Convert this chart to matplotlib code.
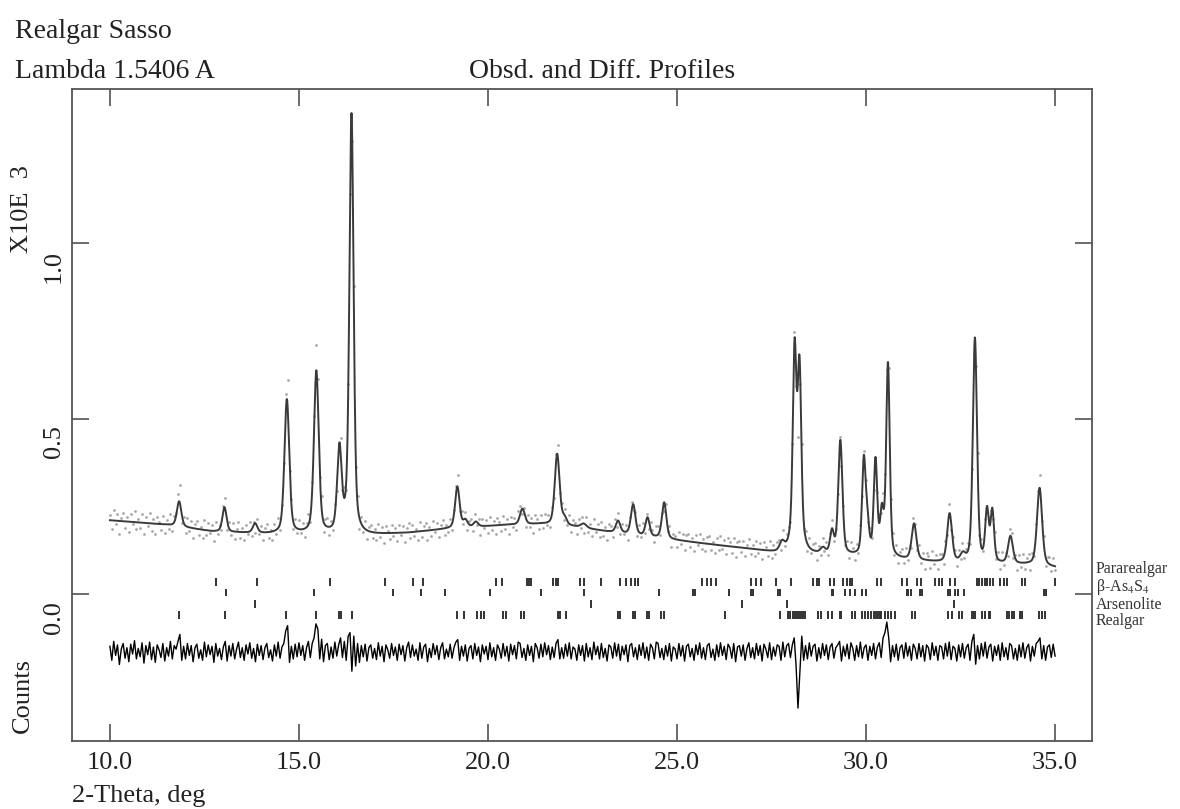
import numpy as np
import matplotlib.pyplot as plt
import matplotlib.transforms as mtransforms

plt.rcParams['font.family'] = ['Liberation Serif', 'DejaVu Serif']
plt.rcParams['mathtext.fontset'] = 'stix'

# peaks: 2-theta (deg), height above background (x10^3 counts), fwhm (deg)
peak_pos = [11.83, 13.03, 13.84, 14.68, 15.46, 16.07, 16.33, 16.39,
            19.19, 19.40, 19.68, 20.91, 21.83, 22.02, 22.53,
            23.44, 23.84, 24.22, 24.66, 27.78,
            28.11, 28.17, 28.24, 28.86, 29.10, 29.32,
            29.94, 30.03, 30.25, 30.42, 30.58, 31.27,
            32.21, 32.56, 32.88, 33.20, 33.34, 33.82, 34.59]
peak_height = [0.072, 0.070, 0.027, 0.382, 0.462, 0.235, 0.03, 1.17,
               0.118, 0.02, 0.014, 0.045, 0.203, 0.02, 0.012,
               0.034, 0.086, 0.053, 0.103, 0.025,
               0.51, 0.08, 0.46, 0.015, 0.063, 0.325,
               0.26, 0.09, 0.27, 0.12, 0.55, 0.103,
               0.138, 0.02, 0.64, 0.145, 0.145, 0.078, 0.222]
peak_fwhm = [0.14, 0.13, 0.14, 0.15, 0.15, 0.14, 0.30, 0.13,
             0.14, 0.14, 0.14, 0.15, 0.15, 0.14, 0.18,
             0.14, 0.14, 0.13, 0.14, 0.15,
             0.11, 0.30, 0.11, 0.15, 0.12, 0.13,
             0.11, 0.12, 0.11, 0.11, 0.11, 0.15,
             0.15, 0.15, 0.13, 0.11, 0.11, 0.15, 0.16]

# background knots
bg_theta = [10.0, 11.5, 12.7, 14.2, 15.7, 16.8, 17.9, 18.9, 20.4, 21.4, 22.3,
            23.2, 24.9, 25.9, 27.0, 27.6, 28.6, 29.7, 31.0, 32.0, 34.3, 35.0]
bg_counts = [0.210, 0.197, 0.178, 0.171, 0.170, 0.167, 0.174, 0.185, 0.196, 0.199, 0.191,
             0.177, 0.154, 0.141, 0.127, 0.117, 0.112, 0.107, 0.097, 0.089, 0.083, 0.075]

# obs - calc, counts, every 0.05 deg from 10.0
step = 0.05
resid_counts = [
    16, -24, 30, -10, 20, -36, 8, 24, -18, 12, -28, 22, -6, 32, -20, 10, -14, 26, -32, 18,
    -8, 28, -22, 14, -30, 20, 6, -16, 24, -26, 12, -12, 30, -20, 18, 8, 30, 50, -24, 16,
    -20, 24, -10, 18, -28, 12, 22, -18, 6, -24, 28, -14, 20, -8, 16, -30, 24, -12, 10, -22,
    14, 30, -26, 18, -12, 24, -20, 8, 28, -16, 12, -24, 20, -6, 26, -18, 10, -28, 22, -10,
    18, -22, 12, 24, -16, 6, -26, 20, -12, 28, -18, 14, 24, 60, 75, -30, 16, -20, 22, -14,
    26, -10, 18, -24, 12, 30, -16, 24, 40, 80, 65, -20, 36, -28, 18, 24, -22, 14, -18, 28,
    -12, 20, 40, -16, 30, -24, 44, 55, -55, 45, -40, 24, -30, 18, -14, 22, -26, 12, 20, -18,
    10, -22, 26, -12, 16, -28, 20, 6, -18, 24, -10, 14, -24, 22, -8, 18, -26, 12, 28, -16,
    20, -12, 8, -24, 26, -18, 14, 22, -28, 10, -16, 24, -8, 18, -22, 12, 26, -20, 8, -14,
    22, -18, 12, 28, 35, -24, 16, -12, 20, -26, 10, 18, -20, 24, -10, 14, -28, 20, -6, 16,
    -22, 26, -14, 12, -24, 20, 8, -18, 24, -12, 16, -26, 22, -8, 18, -20, 28, 24, -16, 10,
    -24, 20, -10, 16, -28, 24, 12, -18, 22, -14, 26, -8, 18, -22, 14, -16, 24, 35, -20, 12,
    -18, 22, -12, 26, -20, 14, 8, -24, 20, -10, 18, -26, 24, -14, 12, -22, 28, -8, 16, -20,
    24, -16, 10, -26, 20, 14, -18, 26, -12, 22, -24, 16, -8, 20, -28, 18, 24, -14, 12, -22,
    20, -10, 26, -18, 14, -24, 22, 12, -20, 28, 24, -16, 10, -22, 18, -12, 24, -26, 14, 8,
    -20, 24, -12, 18, -26, 16, 22, -14, 10, -24, 20, -8, 26, -18, 12, -22, 18, 24, -16, 8,
    -24, 20, -14, 26, -10, 16, -22, 22, 12, -18, 24, -28, 14, 18, -12, 20, -24, 10, 26, -16,
    12, -20, 24, -10, 18, -26, 22, 8, -16, 26, -22, 14, -12, 20, 16, -24, 28, -14, 18, 24,
    -16, 20, 40, -40, -160, -60, 45, -24, 18, -20, 26, -12, 16, 22, -26, 12, -18, 24, -10, 20,
    -22, 14, 24, -18, 12, 20, 30, -26, 16, -12, 22, -20, 26, 10, -24, 18, -14, 28, -18, 12,
    20, -24, 16, -10, 24, -20, 14, 26, -16, 40, 55, 85, 40, -28, 18, -14, 22, -24, 12, 20,
    -18, 26, -12, 16, -24, 22, 10, -20, 24, -14, 18, -26, 20, 12, -22, 26, -10, 16, -24, 18,
    14, -20, 24, -12, 28, -22, 16, 10, -26, 20, -14, 24, -18, 12, 22, -24, 30, 50, -35, 18,
    -20, 24, -12, 28, -18, 14, 22, -26, 16, -10, 20, -24, 26, -14, 12, -22, 24, 18, -20, 10,
    -24, 20, -14, 26, -18, 12, 22, -26, 16, -12, 24, 30, 40, -20, 18, -24, 14, 20, -16, 22,
    -12]
diff_offset = -0.165

# reflection markers per phase
phase_names = ['Pararealgar', r'β-As$_4$S$_4$', 'Arsenolite', 'Realgar']
pararealgar = [12.80, 13.89, 15.82, 17.27, 18.02, 18.28, 20.21, 20.38, 21.03, 21.09, 21.15,
               21.73, 21.80, 21.86, 22.44, 22.55, 22.99, 23.50, 23.65, 23.79, 23.89, 23.96,
               25.67, 25.79, 25.91, 26.04, 26.97, 27.08, 27.21, 27.63, 28.01, 28.60, 28.69,
               28.76, 29.04, 29.15, 29.40, 29.49, 29.57, 29.62, 30.28, 30.39, 30.96, 31.08,
               31.34, 31.46, 31.83, 31.92, 32.00, 32.22, 32.36, 32.93, 32.99, 33.06, 33.14,
               33.20, 33.29, 33.37, 33.55, 33.64, 33.73, 34.12, 34.20, 34.99]
beta_as4s4 = [13.08, 15.41, 17.49, 18.22, 18.87, 20.05, 21.40, 22.55, 24.52, 25.42, 25.47,
              26.37, 26.97, 27.02, 27.67, 27.73, 29.09, 29.13, 29.44, 29.57, 29.71, 29.88,
              29.99, 31.08, 31.12, 31.19, 31.43, 31.47, 32.18, 32.22, 32.36, 32.42, 32.58,
              34.70, 34.76]
arsenolite = [13.84, 22.73, 26.72, 27.92, 32.33]
realgar = [11.84, 13.05, 14.67, 15.45, 16.05, 16.12, 16.39, 19.17, 19.37, 19.70, 19.81,
           19.90, 20.41, 20.47, 20.87, 20.94, 21.84, 21.91, 22.06, 23.43, 23.50, 23.83,
           23.90, 24.21, 24.27, 24.58, 24.65, 26.26, 27.72, 27.94, 28.00, 28.08, 28.12,
           28.18, 28.24, 28.29, 28.34, 28.38, 28.73, 28.82, 29.00, 29.09, 29.31, 29.35,
           29.62, 29.71, 29.88, 29.97, 30.05, 30.14, 30.22, 30.27, 30.31, 30.36, 30.40,
           30.49, 30.58, 30.67, 30.76, 31.21, 31.30, 32.18, 32.27, 32.45, 32.53, 32.80,
           32.85, 32.89, 33.06, 33.15, 33.24, 33.28, 33.73, 33.78, 33.86, 33.91, 34.08,
           34.12, 34.57, 34.66, 34.74]
phase_rows = [0.035, 0.004, -0.028, -0.059]
label_rows = [0.070, 0.019, -0.030, -0.076]

xticks = [10, 15, 20, 25, 30, 35]
xtick_labels = ['10.0', '15.0', '20.0', '25.0', '30.0', '35.0']
yticks = [0.0, 0.5, 1.0]
ytick_labels = ['0.0', '0.5', '1.0']


def profile(tt):
    # pseudo-Voigt peaks on the background
    y = np.interp(tt, bg_theta, bg_counts)
    for p, h, w in zip(peak_pos, peak_height, peak_fwhm):
        d = (tt - p) / w
        y = y + h * (0.6 * np.exp(-4 * np.log(2) * d ** 2) + 0.4 / (1 + 4 * d ** 2))
    return y


tt_fine = np.arange(10.0, 35.0001, 0.005)
tt_obs = 10.0 + step * np.arange(len(resid_counts))
resid = np.array(resid_counts) / 1000.0
obs = profile(tt_obs) + resid

txt = '#222222'
fig = plt.figure(figsize=(11.8, 8.09), dpi=100)
ax = fig.add_axes([0.0608, 0.084, 0.8644, 0.806])

ax.plot(tt_obs, obs, 'o', ms=2.0, color='#a8a8a8', mec='none')
ax.plot(tt_fine, profile(tt_fine), color='#3a3a3a', lw=1.4)
ax.plot(tt_obs, diff_offset + resid, color='black', lw=1.0)

for refl, yc in zip([pararealgar, beta_as4s4, arsenolite, realgar], phase_rows):
    ax.vlines(refl, yc - 0.011, yc + 0.011, color='#333333', lw=1.4)

ax.set_xlim(8.99, 35.97)
ax.set_ylim(-0.419, 1.439)
ax.set_xticks(xticks)
ax.set_xticklabels(xtick_labels)
ax.set_yticks(yticks)
ax.set_yticklabels([])
ax.tick_params(direction='in', length=12, width=1.1, top=True, right=True,
               color='#444444', labelsize=19, labelcolor=txt)
ax.tick_params(axis='x', pad=8)
for s in ax.spines.values():
    s.set_linewidth(1.3)
    s.set_color('#555555')

trans = mtransforms.blended_transform_factory(ax.transAxes, ax.transData)
for v, lab in zip(yticks, ytick_labels):
    ax.text(-0.0174, v - 0.02, lab, rotation=90, ha='center', va='top',
            fontsize=19, color=txt, transform=trans, clip_on=False)

for name, yl in zip(phase_names, label_rows):
    ax.text(1.004, yl, name, transform=trans, fontsize=11.5, color='#333333',
            ha='left', va='center', clip_on=False)

fig.text(15 / 1180, 0.953, 'Realgar Sasso', fontsize=20, color=txt, va='baseline')
fig.text(15 / 1180, 0.903, 'Lambda 1.5406 A', fontsize=20, color=txt, va='baseline')
fig.text(469 / 1180, 0.903, 'Obsd. and Diff. Profiles', fontsize=20, color=txt, va='baseline')
fig.text(0.0185, 0.687, 'X10E  3', rotation=90, fontsize=19, color=txt, ha='center', va='bottom')
fig.text(0.0195, 0.1397, 'Counts', rotation=90, fontsize=19, color=txt, ha='center', va='center')
fig.text(72 / 1180, 0.0297, '2-Theta, deg', fontsize=19, color=txt, ha='left', va='top')

fig.savefig('out.png', dpi=100)
